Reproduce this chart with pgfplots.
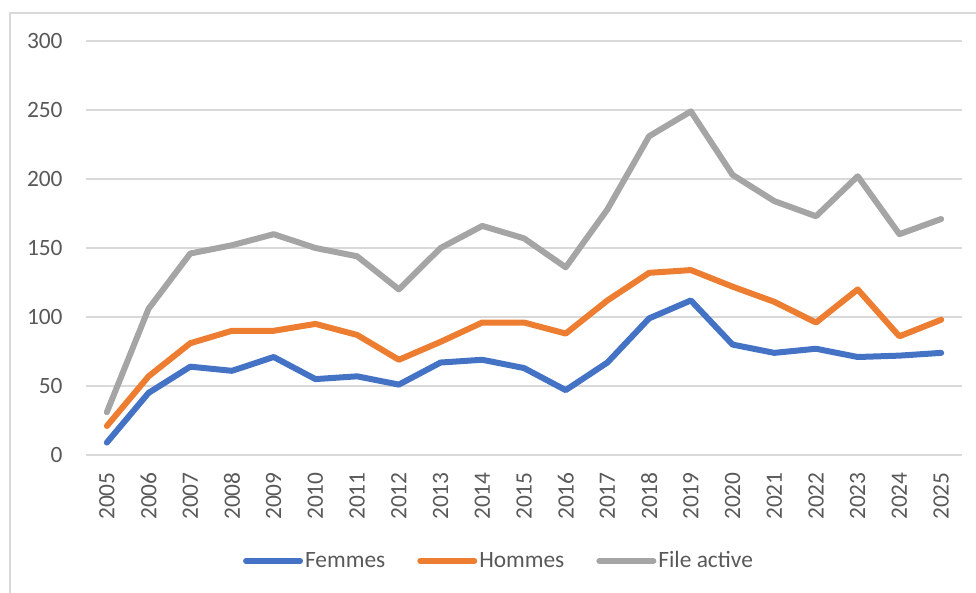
\documentclass[border=0pt]{standalone}
\usepackage{pgfplots}
\pgfplotsset{compat=1.18}
\usepackage{fontspec}
\setmainfont{Carlito}
\definecolor{cblue}{HTML}{4472C4}
\definecolor{corange}{HTML}{ED7D31}
\definecolor{cgray}{HTML}{A5A5A5}
\definecolor{ctext}{HTML}{595959}
\definecolor{cgrid}{HTML}{D9D9D9}
\begin{document}
\begin{tikzpicture}
\useasboundingbox (-43pt,-69pt) rectangle (445pt,227.5pt);
\draw[cgrid, line width=0.75pt] (-38pt,-80pt) -- (-38pt,221pt) -- (460pt,221pt);
\begin{axis}[
  at={(0,0)}, anchor=south west,
  scale only axis,
  width=438pt, height=207pt,
  xmin=2004.5, xmax=2025.5,
  ymin=0, ymax=300,
  xtick={2005,2006,...,2025},
  ytick={0,50,...,300},
  ymajorgrids,
  grid style={cgrid, line width=0.75pt},
  axis line style={draw=none},
  tick style={draw=none},
  major tick length=0pt,
  font=\fontsize{11.7pt}{14pt}\selectfont,
  /pgf/number format/assume math mode=true,
  /pgf/number format/1000 sep={},
  ticklabel style={text=ctext, font=\fontsize{11.7pt}{14pt}\selectfont},
  yticklabel style={anchor=east, inner sep=0pt, xshift=-11.5pt},
  xticklabel style={rotate=90, anchor=east, inner sep=0pt, xshift=-8.5pt},
  legend columns=3,
  legend style={at={(206.5pt,-53pt)}, anchor=center, draw=none, fill=none,
    font=\fontsize{11.7pt}{14pt}\selectfont, text=ctext,
    /tikz/every even column/.append style={column sep=15pt},
    nodes={inner sep=1pt}},
  legend image code/.code={\draw[#1, line cap=round] (0pt,0pt) -- (27pt,0pt);},
  every axis plot/.append style={line width=3pt, line join=round, line cap=round},
]
\addplot[cblue] coordinates {(2005,9)(2006,45)(2007,64)(2008,61)(2009,71)(2010,55)(2011,57)(2012,51)(2013,67)(2014,69)(2015,63)(2016,47)(2017,67)(2018,99)(2019,112)(2020,80)(2021,74)(2022,77)(2023,71)(2024,72)(2025,74)};
\addlegendentry{Femmes}
\addplot[corange] coordinates {(2005,21)(2006,57)(2007,81)(2008,90)(2009,90)(2010,95)(2011,87)(2012,69)(2013,82)(2014,96)(2015,96)(2016,88)(2017,112)(2018,132)(2019,134)(2020,122)(2021,111)(2022,96)(2023,120)(2024,86)(2025,98)};
\addlegendentry{Hommes}
\addplot[cgray] coordinates {(2005,31)(2006,106)(2007,146)(2008,152)(2009,160)(2010,150)(2011,144)(2012,120)(2013,150)(2014,166)(2015,157)(2016,136)(2017,178)(2018,231)(2019,249)(2020,203)(2021,184)(2022,173)(2023,202)(2024,160)(2025,171)};
\addlegendentry{File active}
\end{axis}
\end{tikzpicture}
\end{document}
